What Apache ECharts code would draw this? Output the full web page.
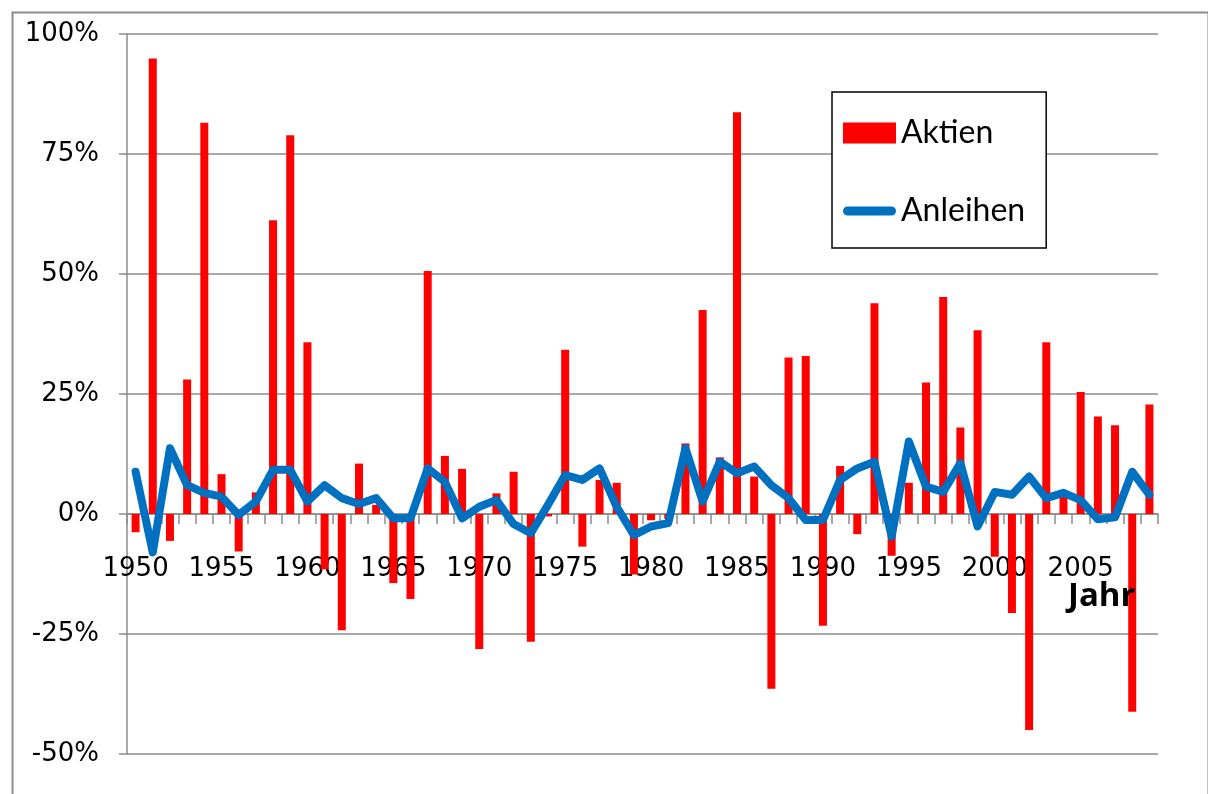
<!DOCTYPE html>
<html>
<head>
<meta charset="utf-8">
<script src="https://cdn.jsdelivr.net/npm/echarts@6/dist/echarts.min.js"></script>
<style>
html,body{margin:0;padding:0;background:#fff;}
#c{width:1208px;height:794px;}
</style>
</head>
<body>
<div id="c"></div>
<script>
const years = [];
for (let y = 1950; y <= 2009; y++) years.push(String(y));

const aktien = [
  -3.8, 94.9, -5.6, 28.0, 81.5, 8.3, -7.8, 4.5, 61.2, 78.9,
  35.8, -11.5, -24.2, 10.5, 1.9, -14.4, -17.7, 50.6, 12.1, 9.4,
  -28.1, 4.3, 8.8, -26.6, -0.5, 34.2, -6.8, 7.1, 6.5, -12.6,
  -1.3, -1.0, 14.7, 42.5, 11.8, 83.7, 7.8, -36.4, 32.6, 32.9,
  -23.3, 10.0, -4.2, 43.9, -8.7, 6.5, 27.4, 45.2, 18.0, 38.3,
  -8.9, -20.6, -45.0, 35.8, 5.0, 25.4, 20.3, 18.5, -41.2, 22.8
];

const anleihen = [
  8.8, -8.0, 13.7, 6.0, 4.4, 3.6, -0.2, 2.6, 9.2, 9.2,
  2.6, 6.0, 3.3, 2.1, 3.3, -0.9, -0.9, 9.5, 6.7, -0.9,
  1.5, 2.9, -2.1, -4.0, 1.9, 8.1, 7.1, 9.5, 1.5, -4.4,
  -2.6, -1.9, 13.7, 2.6, 10.9, 8.5, 9.9, 6.0, 3.3, -1.25,
  -1.25, 7.1, 9.5, 10.9, -4.7, 15.1, 5.7, 4.6, 10.6, -2.6,
  4.6, 4.0, 7.8, 3.3, 4.4, 2.9, -1.1, -0.7, 8.8, 4.0
];

const yTicks = { min: -50, max: 100, step: 25 };

const gridTop = 34, gridBottom = 40, chartH = 794;
const plotH = chartH - gridTop - gridBottom;
const zeroShift = -plotH * (0 - yTicks.min) / (yTicks.max - yTicks.min);

// capsule icon for the line legend entry (box 53 x 21)
const capsuleIcon = 'path://M0,0L0.01,0M53,21L52.99,21M4.5,6L48.5,6A4.5,4.5 0 0 1 48.5,15L4.5,15A4.5,4.5 0 0 1 4.5,6Z';

const chart = echarts.init(document.getElementById('c'), null, { renderer: 'canvas' });
chart.setOption({
  animation: false,
  backgroundColor: '#ffffff',
  graphic: {
    z: 50,
    elements: [
      {
        type: 'rect', left: 10, top: 10, z: -100,
        shape: { width: 1196, height: 800 },
        style: { fill: 'none', stroke: '#8c8c8c', lineWidth: 2 }
      },
      {
        type: 'text', left: 1068, top: 580, z: 100,
        style: { text: 'Jahr', font: 'bold 33px "Open Sans", sans-serif', fill: '#000' }
      }
    ]
  },
  legend: {
    orient: 'vertical',
    left: 832, top: 92,
    padding: [25, 21, 21, 11],
    itemGap: 46,
    itemWidth: 53,
    itemHeight: 21,
    borderColor: '#000',
    borderWidth: 1.5,
    backgroundColor: '#fff',
    textStyle: { fontFamily: 'Lato, "Open Sans", sans-serif', fontSize: 32, color: '#000' },
    data: [
      { name: 'Aktien', icon: 'rect' },
      { name: 'Anleihen', icon: capsuleIcon }
    ]
  },
  grid: { left: 127, right: 50, top: gridTop, bottom: gridBottom, containLabel: false, outerBoundsMode: 'none' },
  xAxis: {
    type: 'category',
    data: years,
    boundaryGap: true,
    offset: zeroShift,
    axisLine: { onZero: false, lineStyle: { color: '#8c8c8c', width: 1.5 } },
    axisTick: { show: true, interval: 0, length: 10, alignWithLabel: false, lineStyle: { color: '#8c8c8c', width: 1.5 } },
    axisLabel: {
      interval: 4, margin: 42,
      fontFamily: '"DejaVu Sans", sans-serif', fontSize: 26, color: '#000'
    },
    splitLine: { show: false }
  },
  yAxis: {
    type: 'value',
    min: yTicks.min, max: yTicks.max, interval: yTicks.step,
    axisLine: { show: true, lineStyle: { color: '#8c8c8c', width: 1.5 } },
    axisTick: { show: true, length: 8, lineStyle: { color: '#8c8c8c', width: 1.5 } },
    axisLabel: {
      formatter: '{value}%', margin: 28,
      fontFamily: '"DejaVu Sans", sans-serif', fontSize: 26, color: '#000'
    },
    splitLine: { show: true, lineStyle: { color: '#8c8c8c', width: 1.5 } }
  },
  series: [
    {
      name: 'Aktien', type: 'bar', data: aktien,
      barWidth: 8,
      itemStyle: { color: '#ff0000' },
      z: 2
    },
    {
      name: 'Anleihen', type: 'line', data: anleihen,
      showSymbol: false, symbol: 'none',
      lineStyle: { color: '#0070c0', width: 8, cap: 'round', join: 'round' },
      itemStyle: { color: '#0070c0' },
      z: 3
    }
  ]
});
</script>
</body>
</html>
